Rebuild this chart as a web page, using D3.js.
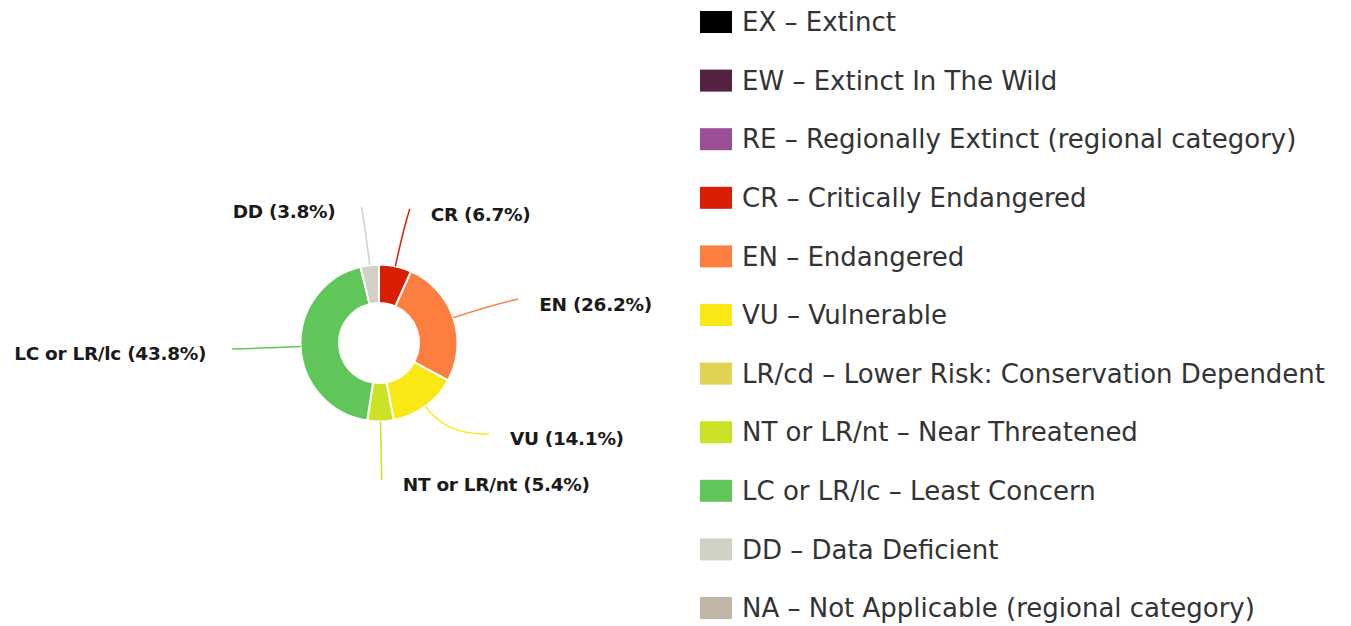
<!DOCTYPE html>
<html>
<head>
<meta charset="utf-8">
<script src="https://cdn.jsdelivr.net/npm/d3@7"></script>
<style>
  html, body { margin: 0; padding: 0; background: #fff; }
  svg { display: block; }
</style>
</head>
<body>
<svg id="chart" width="1351" height="626"></svg>
<script>
// ---- data ----
const sliceCodes  = ["CR", "EN", "VU", "NT or LR/nt", "LC or LR/lc", "DD"];
const sliceValues = [6.7, 26.2, 14.1, 5.4, 43.8, 3.8];
const sliceColors = ["#d81e05", "#fc7f3f", "#f9e814", "#cce226", "#60c659", "#d1d1c6"];

const legendLabels = [
  "EX – Extinct",
  "EW – Extinct In The Wild",
  "RE – Regionally Extinct (regional category)",
  "CR – Critically Endangered",
  "EN – Endangered",
  "VU – Vulnerable",
  "LR/cd – Lower Risk: Conservation Dependent",
  "NT or LR/nt – Near Threatened",
  "LC or LR/lc – Least Concern",
  "DD – Data Deficient",
  "NA – Not Applicable (regional category)"
];
const legendColors = ["#000000", "#542344", "#9b4f96", "#d81e05", "#fc7f3f", "#f9e814",
                      "#e2d254", "#cce226", "#60c659", "#d1d1c6", "#c1b5a5"];

// ---- layout ----
const svg = d3.select("#chart");
const cx = 379, cy = 343;
const outerR = 78.5, innerR = 40;
const labelRx = 147, labelRy = 137;

const pie = d3.pie().sort(null).value(d => d.value);
const arcs = pie(sliceCodes.map((c, i) => ({code: c, value: sliceValues[i], color: sliceColors[i]})));
const arc = d3.arc().innerRadius(innerR).outerRadius(outerR);

const g = svg.append("g").attr("transform", `translate(${cx},${cy})`);

g.selectAll("path.slice").data(arcs).enter().append("path")
  .attr("class", "slice")
  .attr("d", arc)
  .attr("fill", d => d.data.color)
  .attr("stroke", "#fff")
  .attr("stroke-width", 2)
  .attr("stroke-linejoin", "round");

// label positions on an ellipse, with simple vertical collision avoidance
const polar = (a, r) => [r * Math.sin(a), -r * Math.cos(a)];
const labels = arcs.map(d => {
  const mid = (d.startAngle + d.endAngle) / 2;
  const x = labelRx * Math.sin(mid), y = -labelRy * Math.cos(mid);
  return {d, mid, x, y, right: Math.sin(mid) >= -0.05};
});
const minGap = 46;
const rightSide = labels.filter(l => l.right).sort((a, b) => b.y - a.y);
for (let i = 1; i < rightSide.length; i++) {
  const prev = rightSide[i - 1], cur = rightSide[i];
  if (prev.y - cur.y < minGap) {
    cur.y = prev.y - minGap;
    cur.x = labelRx * Math.sqrt(Math.max(0, 1 - (cur.y / labelRy) ** 2));
  }
}

const lineGen = l => {
  const p0 = polar(l.mid, outerR);
  const p1 = polar(l.mid, outerR + 36);
  const p = d3.path();
  p.moveTo(p0[0], p0[1]);
  p.quadraticCurveTo(p1[0], p1[1], l.x, l.y);
  return p.toString();
};

g.selectAll("path.leader").data(labels).enter().append("path")
  .attr("class", "leader")
  .attr("d", lineGen)
  .attr("fill", "none")
  .attr("stroke", l => l.d.data.color)
  .attr("stroke-width", 1.5);

g.selectAll("text.lbl").data(labels).enter().append("text")
  .attr("class", "lbl")
  .attr("x", l => l.right ? l.x + 21 : l.x - 26)
  .attr("y", l => l.y + 5)
  .attr("dy", "0.35em")
  .attr("text-anchor", l => l.right ? "start" : "end")
  .attr("font-family", "'DejaVu Sans', sans-serif")
  .attr("font-weight", "bold")
  .attr("font-size", 18.5)
  .attr("letter-spacing", -0.3)
  .attr("fill", "#1a1a1a")
  .text(l => `${l.d.data.code} (${d3.format(".1f")(l.d.data.value)}%)`);

// ---- legend ----
svg.append("clipPath").attr("id", "legClip")
  .append("rect").attr("x", 690).attr("y", 0).attr("width", 643).attr("height", 626);

const ly = d3.scalePoint().domain(legendLabels).range([22, 608]);
const leg = svg.append("g").attr("clip-path", "url(#legClip)");
const rows = leg.selectAll("g.row").data(legendLabels).enter().append("g")
  .attr("class", "row")
  .attr("transform", d => `translate(0,${ly(d)})`);
rows.append("rect")
  .attr("x", 700).attr("y", -11).attr("width", 32).attr("height", 22)
  .attr("fill", (d, i) => legendColors[i]);
rows.append("text")
  .attr("x", 742).attr("y", 0).attr("dy", "0.35em")
  .attr("font-family", "'DejaVu Sans', sans-serif")
  .attr("font-size", 26)
  .attr("fill", "#333")
  .text(d => d);
</script>
</body>
</html>
